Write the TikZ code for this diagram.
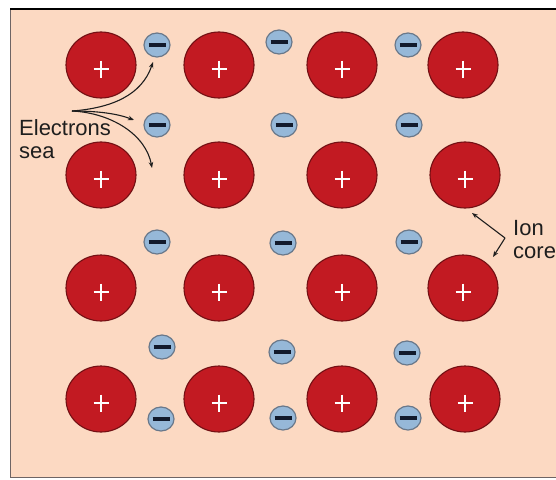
\documentclass[tikz,border=0pt]{standalone}
\usepackage{fontspec}
\setmainfont{Liberation Sans}
\usetikzlibrary{shapes.geometric,arrows.meta}
\definecolor{bg}{RGB}{252,217,194}
\definecolor{ionfill}{RGB}{194,26,34}
\definecolor{iondraw}{RGB}{115,16,20}
\definecolor{efill}{RGB}{150,184,216}
\definecolor{edraw}{RGB}{105,120,138}
\definecolor{emin}{RGB}{18,26,44}
\definecolor{txt}{RGB}{30,30,30}
\definecolor{framegray}{RGB}{110,100,100}
\begin{document}
\begin{tikzpicture}[x=1pt,y=-1pt,
  ion/.style={ellipse,minimum width=70pt,minimum height=66pt,inner sep=0pt,
    fill=ionfill,draw=iondraw,line width=1.1pt,
    path picture={
      \draw[white,line width=2.3pt] ([xshift=-7.5pt,yshift=-4pt]path picture bounding box.center) -- ([xshift=7.5pt,yshift=-4pt]path picture bounding box.center);
      \draw[white,line width=2.3pt] ([yshift=4.5pt]path picture bounding box.center) -- ([yshift=-12.5pt]path picture bounding box.center);
    }},
  electron/.style={ellipse,minimum width=26pt,minimum height=24pt,inner sep=0pt,
    fill=efill,draw=edraw,line width=1.2pt,
    path picture={
      \draw[emin,line width=3.6pt] ([xshift=-8.5pt]path picture bounding box.center) -- ([xshift=8.5pt]path picture bounding box.center);
    }},
  lbl/.style={font=\fontsize{22}{25}\selectfont,text=txt,inner sep=0pt,anchor=base west},
  pointer/.style={draw=txt,line width=1.1pt,-{Stealth[length=6pt,width=4.5pt]}}
]
\useasboundingbox (0,0) rectangle (556,479);
\fill[white] (0,0) rectangle (556,479);
\fill[bg] (10,9) rectangle (556,477);
\draw[framegray,line width=1pt] (10,9) -- (10,477) -- (556,477);
\draw[black,line width=1.8pt] (10,9) -- (556,9);

% ion cores
\node[ion] (i11) at (101,65) {};
\node[ion] (i12) at (219,65) {};
\node[ion] (i13) at (342,65) {};
\node[ion] (i14) at (463,65) {};
\node[ion] (i21) at (101,175) {};
\node[ion] (i22) at (219,175) {};
\node[ion] (i23) at (342,175) {};
\node[ion] (i24) at (465,175) {};
\node[ion] (i31) at (101,288) {};
\node[ion] (i32) at (219,288) {};
\node[ion] (i33) at (342,288) {};
\node[ion] (i34) at (463,288) {};
\node[ion] (i41) at (101,399) {};
\node[ion] (i42) at (219,399) {};
\node[ion] (i43) at (342,399) {};
\node[ion] (i44) at (465,399) {};

% electrons
\node[electron] (e1) at (157,45) {};
\node[electron] (e2) at (279,42) {};
\node[electron] (e3) at (408,45) {};
\node[electron] (e4) at (157,125) {};
\node[electron] (e5) at (284,125) {};
\node[electron] (e6) at (409,125) {};
\node[electron] (e7) at (157,242) {};
\node[electron] (e8) at (283,243) {};
\node[electron] (e9) at (409,242) {};
\node[electron] (e10) at (162,347) {};
\node[electron] (e11) at (282,352) {};
\node[electron] (e12) at (407,353) {};
\node[electron] (e13) at (161,419) {};
\node[electron] (e14) at (283,418) {};
\node[electron] (e15) at (408,418) {};

% labels
\node[lbl] (lel) at (19,135) {Electrons};
\node[lbl] (lsea) at (19,158) {sea};
\node[lbl] (lion) at (513,235) {Ion};
\node[lbl] (lcore) at (513,258) {core};

% electron sea pointers
\coordinate (ej) at (72,111);
\coordinate (et1) at (153,62);
\coordinate (et2) at (134,120);
\coordinate (et3) at (152,168);
\draw[pointer] (ej) .. controls (112,108) and (142,95) .. (et1);
\draw[pointer] (ej) .. controls (100,111) and (118,114) .. (et2);
\draw[pointer] (ej) .. controls (112,113) and (146,135) .. (et3);

% ion core pointers
\coordinate (ij) at (505,238);
\coordinate (it1) at (472,213);
\coordinate (it2) at (493,257);
\draw[pointer] (ij) -- (it1);
\draw[pointer] (ij) -- (it2);
\end{tikzpicture}
\end{document}
